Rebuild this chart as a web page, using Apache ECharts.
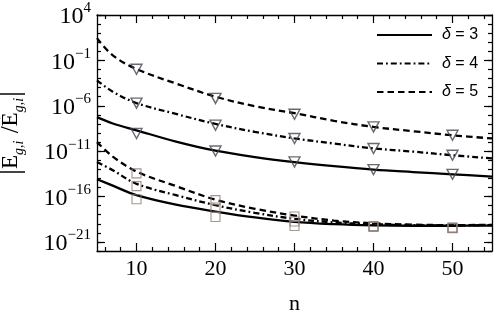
<!DOCTYPE html>
<html><head><meta charset="utf-8">
<script src="https://cdn.jsdelivr.net/npm/echarts@6/dist/echarts.min.js"></script>
<style>html,body{margin:0;padding:0;background:#fff}#c{width:499px;height:317px}</style>
</head><body><div id="c"></div>
<script>
// n values where the theoretical curves were read
const nCurve = [5, 7, 10, 15, 20, 25, 30, 35, 40, 45, 50, 55];
// log10 of |E/Ẽ| (upper group of curves)
const upperD3 = [-7.25, -7.95, -8.7, -9.95, -10.95, -11.65, -12.2, -12.65, -13.03, -13.3, -13.55, -13.8];
const upperD4 = [-3.2, -4.45, -5.7, -6.9, -8.0, -8.88, -9.6, -10.16, -10.7, -11.05, -11.45, -11.8];
const upperD5 = [1.45, -0.45, -1.95, -3.55, -5.0, -6.05, -6.82, -7.66, -8.33, -8.8, -9.25, -9.6];
// log10 values (lower group of curves)
const lowerD3 = [-14.1, -14.8, -15.85, -16.9, -17.65, -18.3, -18.8, -19.05, -19.18, -19.22, -19.22, -19.2];
const lowerD4 = [-12.2, -13.1, -14.6, -15.85, -16.95, -17.8, -18.45, -18.85, -19.05, -19.15, -19.18, -19.15];
const lowerD5 = [-10.0, -11.6, -13.25, -14.85, -16.35, -17.35, -18.1, -18.65, -18.95, -19.1, -19.15, -19.12];
// marker points
const nMarks = [10, 20, 30, 40, 50];
const triD3 = [-9.05, -10.98, -12.19, -13.03, -13.55];
const triD4 = [-5.71, -8.14, -9.61, -10.71, -11.45];
const triD5 = [-1.98, -5.19, -6.93, -8.33, -9.25];
const sqD3 = [-16.3, -18.25, -19.25, -19.35, -19.5];
const sqD4 = [-14.85, -17.2, -18.75, -19.3, -19.45];
const sqD5 = [-13.45, -16.4, -18.2, -19.25, -19.42];
// ticks
const xMajorTicks = [10, 20, 30, 40, 50];
const xMinorTicks = [6, 8, 12, 14, 16, 18, 22, 24, 26, 28, 32, 34, 36, 38, 42, 44, 46, 48, 52, 54];
const yMajorExps = [-21, -16, -11, -6, -1, 4];
const yMinorExps = [-22, -21, -20, -19, -18, -17, -16, -15, -14, -13, -12, -11, -10, -9, -8, -7, -6, -5, -4, -3, -2, -1, 0, 1, 2, 3, 4];
const legendNames = ['δ = 3', 'δ = 4', 'δ = 5'];

const pairs = (xs, ys) => xs.map((x, i) => [x, ys[i]]);
const serif = 'Liberation Serif';
const dashStyles = {
  3: 'solid',
  4: [6, 3, 1.8, 3],
  5: [6.5, 4]
};
function curve(name, ys, d) {
  return {
    type: 'line', name: name, data: pairs(nCurve, ys), smooth: 0.35,
    symbol: 'none', showSymbol: false, silent: true,
    lineStyle: { color: '#000', width: 2.3, type: dashStyles[d], cap: 'butt' },
    itemStyle: { color: '#000' }, z: 3
  };
}
function marks(ys, sym) {
  const tri = sym === 'tri';
  return {
    type: 'scatter', data: pairs(nMarks, ys), silent: true,
    symbol: tri ? 'triangle' : 'rect', symbolRotate: tri ? 180 : 0,
    symbolSize: tri ? [11, 10] : [9, 9],
    itemStyle: { color: 'rgba(255,255,255,0)', borderColor: tri ? '#45454d' : '#8c7a74', borderWidth: tri ? 1.4 : 1.1 },
    z: 4
  };
}
const axisLine = { show: true, onZero: false, lineStyle: { color: '#000', width: 1.3 } };
const noLine = { show: false, onZero: false };
// order: major axes first so each side gets one major and one minor axis
function xAx(pos, major, label) {
  return {
    type: 'value', position: pos, min: 5, max: 55, offset: 0,
    axisLine: major ? axisLine : noLine,
    axisTick: { show: true, inside: true, length: major ? 8 : 4, lineStyle: { color: '#000', width: 1.2 },
      customValues: major ? xMajorTicks : xMinorTicks },
    axisLabel: label ? { show: true, customValues: xMajorTicks, fontFamily: serif, fontSize: 22, color: '#000', margin: 7 } : { show: false },
    splitLine: { show: false },
    name: label ? 'n' : '', nameLocation: 'middle', nameGap: 42,
    nameTextStyle: { fontFamily: serif, fontSize: 22, color: '#000' }
  };
}
function expText(v) {
  return v < 0 ? '\u2212' + (-v) : String(v);
}
function yAx(pos, major, label) {
  return {
    type: 'value', position: pos, min: -22, max: 4, offset: 0,
    axisLine: major ? axisLine : noLine,
    axisTick: { show: true, inside: true, length: major ? 8 : 4, lineStyle: { color: '#000', width: 1.2 },
      customValues: major ? yMajorExps : yMinorExps },
    axisLabel: label ? {
      show: true, customValues: yMajorExps, margin: 6,
      formatter: v => '{b|10}{s|' + expText(v) + '}',
      rich: {
        b: { fontFamily: serif, fontSize: 24, color: '#000', lineHeight: 28, verticalAlign: 'bottom' },
        s: { fontFamily: serif, fontSize: 15, color: '#000', lineHeight: 15, verticalAlign: 'top' }
      }
    } : { show: false },
    splitLine: { show: false },
    name: label ? '{bar||}{E|E}{sub|g,i}{sl| /}{E|\u1EBC}{sub|g,i}{bar||}' : '',
    nameLocation: 'middle', nameGap: 71, nameRotate: 90,
    nameTextStyle: {
      color: '#000',
      rich: {
        bar: { fontFamily: serif, fontSize: 30, color: '#000' },
        E: { fontFamily: serif, fontSize: 23, color: '#000', verticalAlign: 'middle' },
        sub: { fontFamily: serif, fontSize: 14, fontStyle: 'italic', color: '#000', verticalAlign: 'bottom', padding: [0, 1, 0, 0] },
        sl: { fontFamily: serif, fontSize: 25, color: '#000' }
      }
    }
  };
}
const series = [
  curve(legendNames[0], upperD3, 3), curve(legendNames[1], upperD4, 4), curve(legendNames[2], upperD5, 5),
  curve(legendNames[0], lowerD3, 3), curve(legendNames[1], lowerD4, 4), curve(legendNames[2], lowerD5, 5),
  marks(triD3, 'tri'), marks(triD4, 'tri'), marks(triD5, 'tri'),
  marks(sqD3, 'sq'), marks(sqD4, 'sq'), marks(sqD5, 'sq')
];
const chart = echarts.init(document.getElementById('c'), null, { renderer: 'canvas' });
chart.setOption({
  animation: false,
  backgroundColor: '#fff',
  grid: { left: 97, right: 7, top: 15, bottom: 66, containLabel: false, outerBoundsMode: 'none' },
  xAxis: [xAx('bottom', true, true), xAx('top', true, false), xAx('top', false, false), xAx('bottom', false, false)],
  yAxis: [yAx('left', true, true), yAx('right', true, false), yAx('right', false, false), yAx('left', false, false)],
  legend: {
    data: legendNames, orient: 'vertical', left: 376, top: 27, padding: 0,
    itemWidth: 55, itemHeight: 14, itemGap: 12.5,
    itemStyle: { opacity: 0 },
    formatter: name => '{i|δ}{t|' + name.slice(1) + '}',
    textStyle: {
      color: '#000',
      rich: {
        i: { fontFamily: 'Liberation Sans', fontSize: 16, fontStyle: 'italic', color: '#000', padding: [0, 0, 0, 5] },
        t: { fontFamily: 'Liberation Sans', fontSize: 16, color: '#000' }
      }
    }
  },
  series: series
});
</script>
</body></html>
